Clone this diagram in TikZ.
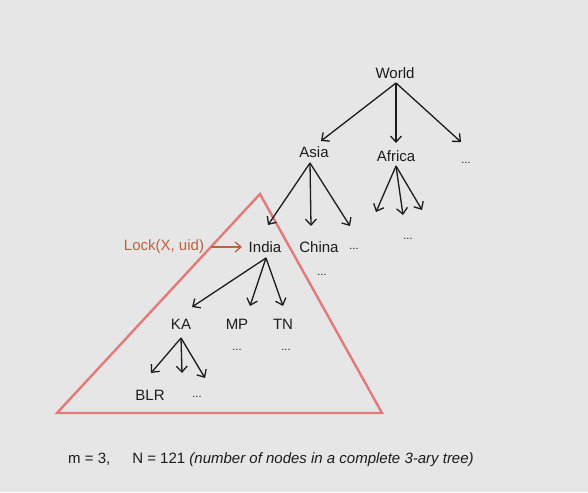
\documentclass[tikz,border=0pt]{standalone}
\usepackage{fontspec}
\setmainfont{Liberation Sans}
\usetikzlibrary{arrows.meta}
\definecolor{bg}{HTML}{E6E6E6}
\definecolor{lockc}{HTML}{C0603E}
\definecolor{tric}{HTML}{E27A7A}
\definecolor{txt}{HTML}{1C1C1C}
\tikzset{
  lbl/.style={inner sep=0pt, text=txt, font=\fontsize{15}{18}\selectfont},
  dots/.style={inner sep=0pt, text=txt, font=\fontsize{11}{13}\selectfont},
  edge/.style={draw=txt, line width=1.3pt, -{Straight Barb[length=6pt,width=11pt,line width=1.3pt]}},
  lockarrow/.style={draw=lockc, line width=1.3pt, -{Straight Barb[length=6pt,width=10pt,line width=1.3pt]}},
  tri/.style={draw=tric, line width=2.4pt, line join=miter}
}
\begin{document}
\begin{tikzpicture}[x=1pt,y=-1pt]
\fill[bg] (0,0) rectangle (588,492);
\useasboundingbox (0,0) rectangle (588,492);
% triangle
\coordinate (ta) at (260,194);
\coordinate (tl) at (57,413);
\coordinate (tr) at (382,413);
\draw[tri] (ta) -- (tl) -- (tr) -- cycle;
% nodes
\node[lbl] (world) at (395,73) {World};
\node[lbl] (asia) at (314,152) {Asia};
\node[lbl] (africa) at (396,156) {Africa};
\node[dots] (wdots) at (466,163) {...};
\node[lbl] (india) at (265,247) {India};
\node[lbl] (china) at (319,247) {China};
\node[dots] (adots) at (354,249) {...};
\node[dots] (cdots) at (322,275) {...};
\node[dots] (afdots) at (408,239) {...};
\node[lbl, text=lockc] (lock) at (164,247) {Lock(X, uid)};
\node[lbl] (ka) at (181,324) {KA};
\node[lbl] (mp) at (237,324) {MP};
\node[lbl] (tn) at (283,324) {TN};
\node[dots] (mpdots) at (237,350) {...};
\node[dots] (tndots) at (286,350) {...};
\node[lbl] (blr) at (150,395) {BLR};
\node[dots] (kdots) at (197,397) {...};
% connector coordinates
\coordinate (wo) at (396,83);
\coordinate (as) at (310,163);
\coordinate (af) at (396,166);
\coordinate (in) at (266,258);
\coordinate (ks) at (181,338);
\coordinate (e1) at (321,141);
\coordinate (e2) at (396,143);
\coordinate (e3) at (461,142);
\coordinate (a1) at (268,225);
\coordinate (a2) at (311,226);
\coordinate (a3) at (350,226);
\coordinate (af1) at (376,212);
\coordinate (af2) at (403,215);
\coordinate (af3) at (422,210);
\coordinate (i1) at (192,307);
\coordinate (i2) at (250,306);
\coordinate (i3) at (283,306);
\coordinate (k1) at (151,373);
\coordinate (k2) at (182,373);
\coordinate (k3) at (205,378);
\coordinate (ls) at (211,247);
\coordinate (le) at (242,247);
% edges
\draw[edge] (wo) -- (e1);
\draw[edge] (wo) -- (e2);
\draw[edge] (wo) -- (e3);
\draw[edge] (as) -- (a1);
\draw[edge] (as) -- (a2);
\draw[edge] (as) -- (a3);
\draw[edge] (af) -- (af1);
\draw[edge] (af) -- (af2);
\draw[edge] (af) -- (af3);
\draw[lockarrow] (ls) -- (le);
\draw[edge] (in) -- (i1);
\draw[edge] (in) -- (i2);
\draw[edge] (in) -- (i3);
\draw[edge] (ks) -- (k1);
\draw[edge] (ks) -- (k2);
\draw[edge] (ks) -- (k3);
% footer
\node[lbl, anchor=west] (footer) at (68,460) {m = 3,\hspace{22pt}N = 121 \textit{(number of nodes in a complete 3-ary tree)}};
\end{tikzpicture}
\end{document}
